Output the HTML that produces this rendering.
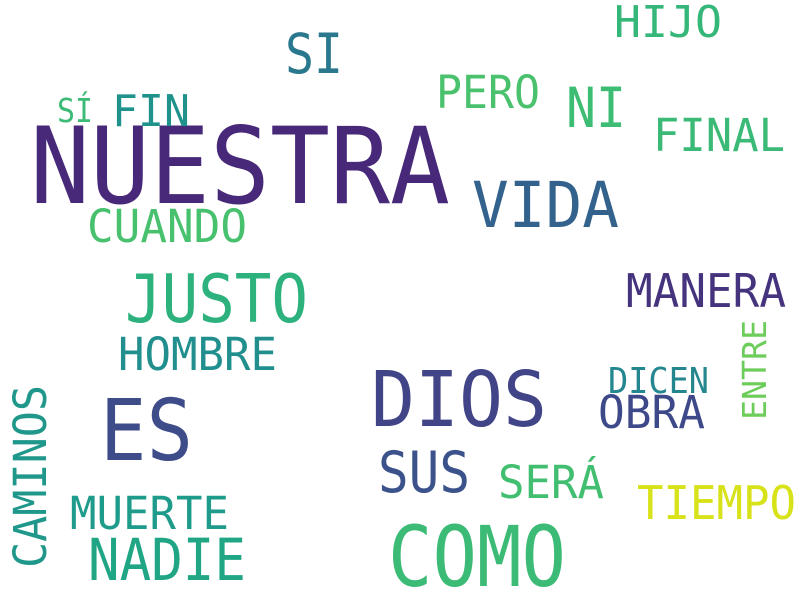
<!DOCTYPE html>
<html><head><meta charset="utf-8"><style>
html,body{margin:0;padding:0;background:#fff;}
svg{display:block;}
text{font-family:"DejaVu Sans Mono","Liberation Mono",monospace;}
</style></head><body>
<svg width="800" height="600" viewBox="0 0 800 600">
<rect width="800" height="600" fill="#fff"/>
<g id="words"></g>
</svg>
<script>
const words = ["NUESTRA","SI","HIJO","PERO","NI","SÍ","FIN","FINAL","VIDA","CUANDO","JUSTO","MANERA","HOMBRE","DICEN","ENTRE","DIOS","OBRA","ES","CAMINOS","SUS","SERÁ","TIEMPO","MUERTE","NADIE","COMO"];
const fontSizes = [106,55,44,45,55,33,44,45,63,45,67,46,45,36,33,77,45,85,45,57,45,46,45,58,84];
const colors = ["#482878","#2a788e","#35b779","#4ac16d","#3dbc74","#3bbb75","#20928c","#3aba76","#33638d","#48c16e","#2db27d","#46337e","#218f8d","#24868e","#6ccd5a","#414487","#3e4989","#3e4c8a","#1f988b","#3b528b","#42be71","#d8e219","#1e9b8a","#21a685","#3bbb75"];
// layout: x, baseline y, text length, rotated
const layout = [
[30,203,420,0],[285,73,58,0],[614,37,108,0],[436,108,104,0],[566,127,60,0],
[57,122,36,0],[112,126,78,0],[653,151,132,0],[472,227,147,0],[87,242,160,0],
[125,322,183,0],[626,307,160,0],[118,370,159,0],[608,393,101,0],[766,420,100,1],
[371,426,176,0],[598,428,107,0],[100,460,93,0],[46,568,183,1],[378,492,92,0],
[498,498,106,0],[637,519,159,0],[70,529,159,0],[88,580,158,0],[388,586,178,0]
];
const g = document.getElementById('words');
words.forEach((w,i)=>{
  const [x,y,len,rot] = layout[i];
  const t = document.createElementNS('http://www.w3.org/2000/svg','text');
  
  
  t.setAttribute('font-size', fontSizes[i]);
  t.setAttribute('fill', colors[i]);
  t.setAttribute('textLength', len);
  t.setAttribute('lengthAdjust', 'spacingAndGlyphs');
  if (rot) { t.setAttribute('transform', `translate(${x},${y}) rotate(-90)`); t.setAttribute('x',0); t.setAttribute('y',0); }
  else { t.setAttribute('x', x); t.setAttribute('y', y); }
  t.textContent = w;
  g.appendChild(t);
});
</script>
</body></html>
